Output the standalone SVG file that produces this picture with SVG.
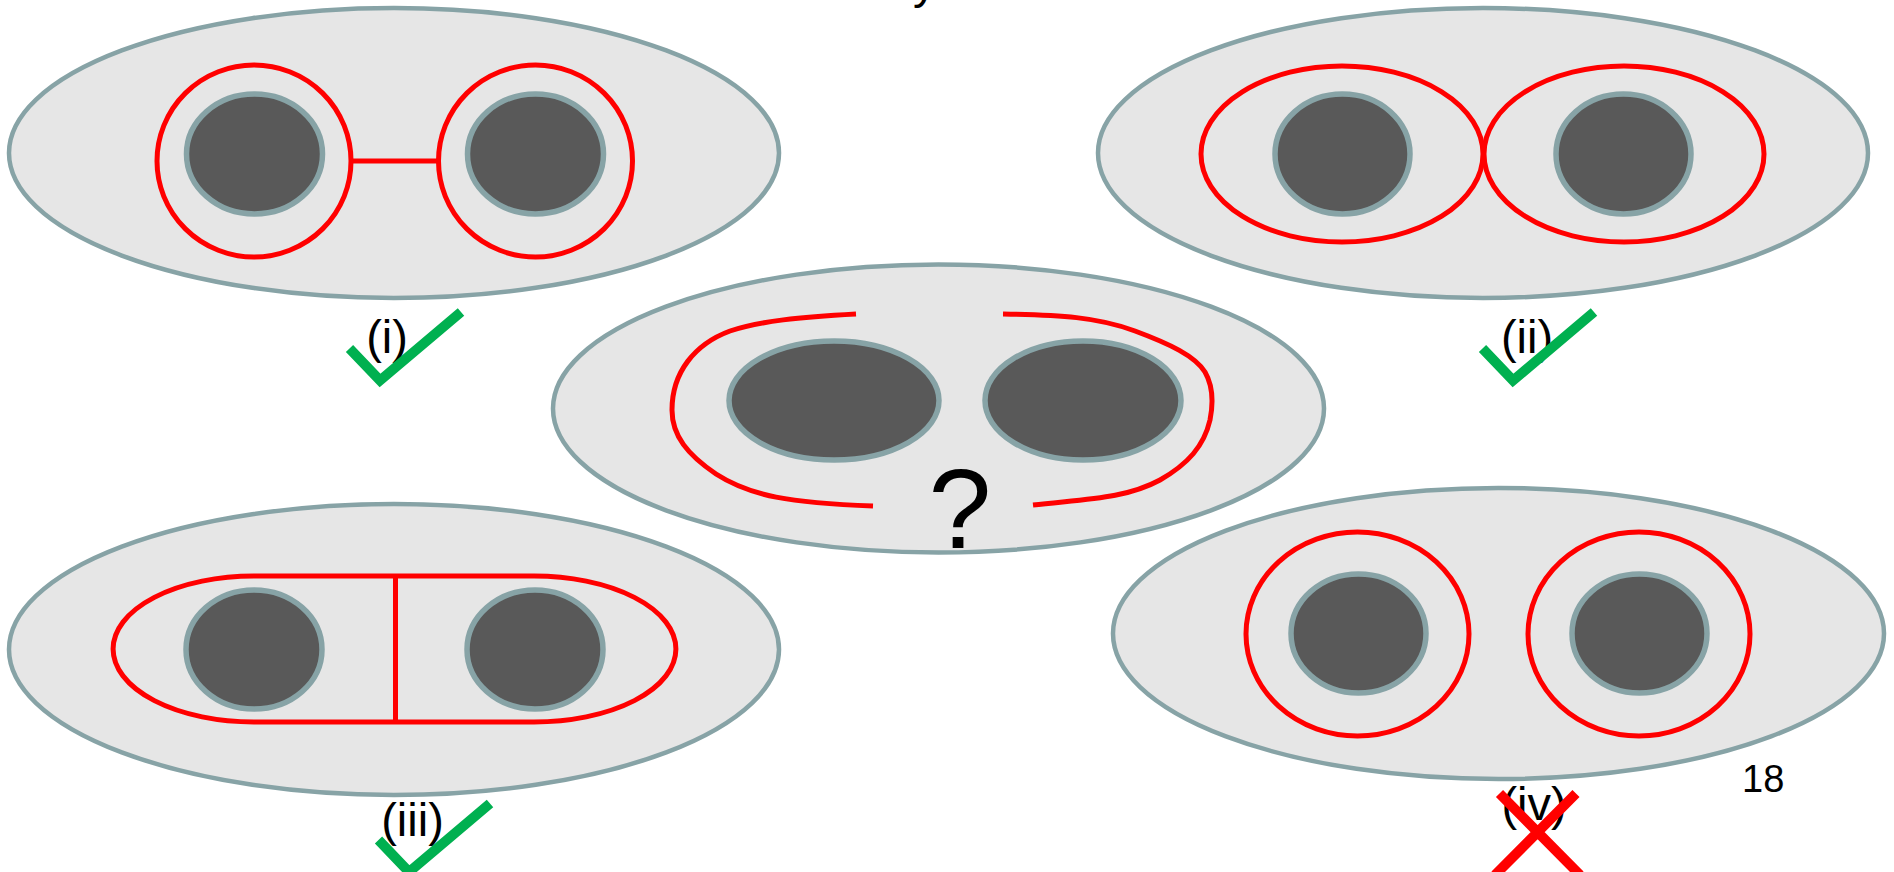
<svg xmlns="http://www.w3.org/2000/svg" width="1894" height="872" viewBox="0 0 1894 872">
<style>
.cell{fill:#E6E6E6;stroke:#87A3A6;stroke-width:4.5}
.hole{fill:#595959;stroke:#87A3A6;stroke-width:5.5}
.loop{fill:none;stroke:#FF0000;stroke-width:5}
.check{fill:none;stroke:#00B050;stroke-width:10;stroke-linejoin:miter;stroke-linecap:butt;stroke-miterlimit:10}
.cross{fill:none;stroke:#FF0000;stroke-width:10;stroke-linecap:butt}
.lbl{font-family:"Liberation Sans",Arial,sans-serif;font-size:47px;fill:#000;text-anchor:middle}
</style>
<rect width="1894" height="872" fill="#FFFFFF"/>
<text x="913" y="-2" font-family="Liberation Sans, Arial, sans-serif" font-size="47" fill="#000">y</text>

<g id="diagram-i">
<ellipse class="cell" cx="394" cy="153" rx="385" ry="145"/>
<ellipse class="hole" cx="254.5" cy="154" rx="68" ry="60"/>
<ellipse class="hole" cx="535.5" cy="154" rx="68" ry="60"/>
<ellipse class="loop" cx="254" cy="161" rx="97" ry="96"/>
<ellipse class="loop" cx="535.5" cy="161" rx="97" ry="96"/>
<path class="loop" d="M351,161 H438.5"/>
</g>

<g id="diagram-ii">
<ellipse class="cell" cx="1483" cy="153" rx="385" ry="145"/>
<ellipse class="hole" cx="1342.5" cy="154" rx="67.5" ry="60"/>
<ellipse class="hole" cx="1623.5" cy="154" rx="67.5" ry="60"/>
<ellipse class="loop" cx="1342" cy="154" rx="141" ry="88"/>
<ellipse class="loop" cx="1624" cy="154" rx="140" ry="88"/>
</g>

<g id="diagram-middle">
<ellipse class="cell" cx="938.5" cy="408.5" rx="385.5" ry="144"/>
<ellipse class="hole" cx="834" cy="400.5" rx="105" ry="59.5"/>
<ellipse class="hole" cx="1083" cy="400.5" rx="98" ry="59.5"/>
<path class="loop" d="M856,314 C800,317 760,321 730,331 C695,344 672,372 672,410 C672,436 688,455 716,474 C750,496 790,503 873,506"/>
<path class="loop" d="M1003,314 C1060,315 1098,317 1135,331 C1170,344 1195,356 1205,372 C1213,386 1213,405 1210,420 C1204,446 1188,464 1160,480 C1125,499 1085,499 1033,505"/>
<text x="960" y="548" font-family="Liberation Sans, Arial, sans-serif" font-size="113" fill="#000" text-anchor="middle">?</text>
</g>

<g id="diagram-iii">
<ellipse class="cell" cx="394" cy="649.5" rx="385" ry="145.5"/>
<ellipse class="hole" cx="254" cy="649.5" rx="68" ry="59.5"/>
<ellipse class="hole" cx="535" cy="649.5" rx="68" ry="59.5"/>
<path class="loop" d="M254,576 H534 A142,73 0 0 1 534,722 H254 A141,73 0 0 1 254,576 Z"/>
<path class="loop" d="M395.5,576 V722"/>
</g>

<g id="diagram-iv">
<ellipse class="cell" cx="1498.5" cy="633.5" rx="385.5" ry="145.5"/>
<ellipse class="hole" cx="1358.5" cy="633.5" rx="67.5" ry="59.5"/>
<ellipse class="hole" cx="1639.5" cy="633.5" rx="67.5" ry="59.5"/>
<ellipse class="loop" cx="1357.5" cy="634" rx="111.5" ry="102"/>
<ellipse class="loop" cx="1639" cy="634" rx="111" ry="102"/>
</g>

<g id="labels">
<text class="lbl" x="387" y="353">(i)</text>
<text class="lbl" x="1527" y="353">(ii)</text>
<text class="lbl" x="412.5" y="836">(iii)</text>
<text class="lbl" x="1534" y="820">(iv)</text>
<text x="1742" y="792" font-family="Liberation Sans, Arial, sans-serif" font-size="38" fill="#000">18</text>
</g>

<g id="marks">
<polyline class="check" points="349.5,348.5 380,380.5 461,312"/>
<polyline class="check" points="1482.5,348.5 1513,380.5 1594,312"/>
<polyline class="check" points="378.5,840 409,872 490,803.5"/>
<path class="cross" d="M1499.5,793.5 L1580,875 M1576,793.5 L1495,875"/>
</g>
</svg>
